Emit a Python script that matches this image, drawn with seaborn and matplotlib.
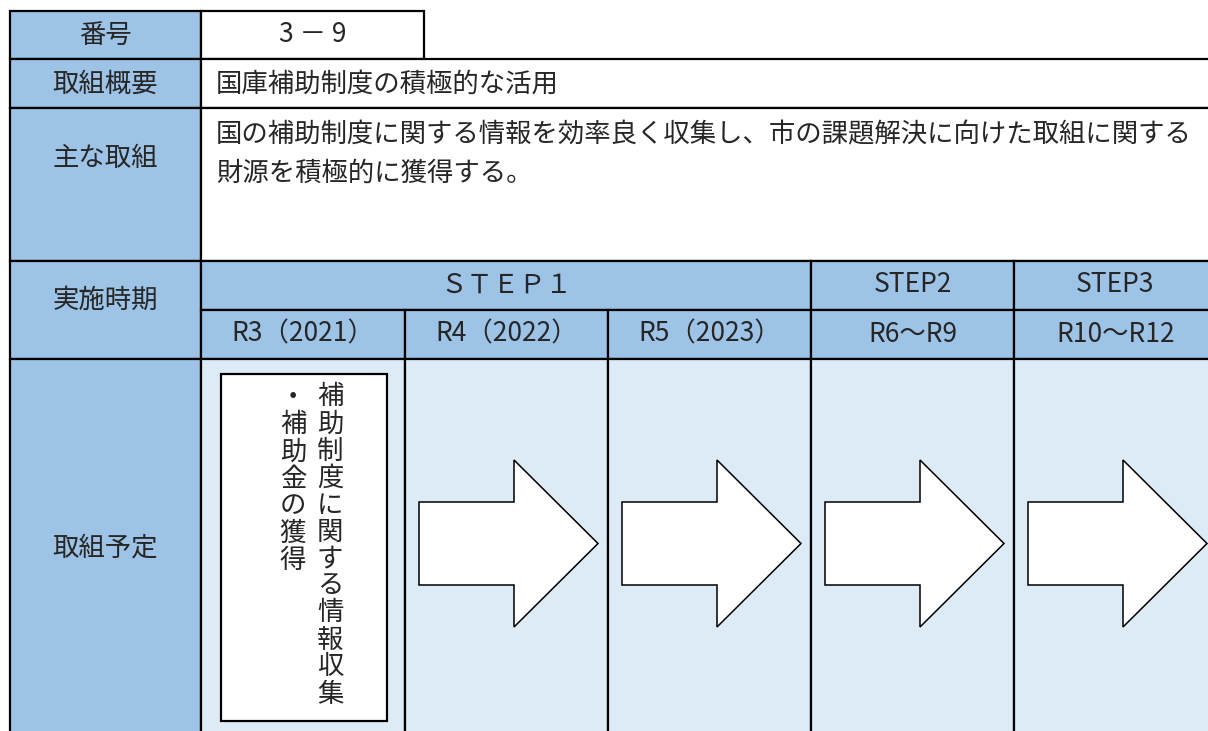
import matplotlib.pyplot as plt
import seaborn as sns
from matplotlib.patches import Rectangle, Polygon

sns.set_style("white")
plt.rcParams['font.family'] = ['Noto Sans CJK JP', 'DejaVu Sans']

# table contents
row_labels = ['番号', '取組概要', '主な取組', '実施時期', '取組予定']
number_text = '3 － 9'
summary_text = '国庫補助制度の積極的な活用'
main_lines = ['国の補助制度に関する情報を効率良く収集し、市の課題解決に向けた取組に関する',
              '財源を積極的に獲得する。']
steps = ['ＳＴＥＰ１', 'STEP2', 'STEP3']
step_spans = [3, 1, 1]
periods = ['R3（2021）', 'R4（2022）', 'R5（2023）', 'R6～R9', 'R10～R12']
plan_lines = ['補助制度に関する情報収集', '・補助金の獲得']
arrow_cols = [1, 2, 3, 4]

# colours
dark = '#9dc3e6'
light = '#ddebf7'

# layout grid in pixels
col_x = [10, 201, 405, 608, 811, 1014, 1217]
row_y = [11, 59, 108, 261, 310, 359, 745]
lw = 1.6
fs = 19

fig = plt.figure(figsize=(12.08, 7.31), dpi=100)
ax = fig.add_axes([0, 0, 1, 1])
ax.set_xlim(0, 1208)
ax.set_ylim(731, 0)
ax.axis('off')


def cell(x0, y0, x1, y1, fc):
    ax.add_patch(Rectangle((x0, y0), x1 - x0, y1 - y0, facecolor=fc,
                           edgecolor='black', linewidth=lw, zorder=1))


# left header column
label_y = [35, 84, 158, 300, 548]
cell(col_x[0], row_y[0], col_x[1], row_y[1], dark)
cell(col_x[0], row_y[1], col_x[1], row_y[2], dark)
cell(col_x[0], row_y[2], col_x[1], row_y[3], dark)
cell(col_x[0], row_y[3], col_x[1], row_y[5], dark)
cell(col_x[0], row_y[5], col_x[1], row_y[6], dark)
for lab, y in zip(row_labels, label_y):
    ax.text((col_x[0] + col_x[1]) / 2, y, lab, ha='center', va='center', fontsize=fs, zorder=3)

# number, summary, main rows
cell(col_x[1], row_y[0], 424, row_y[1], 'white')
ax.text((col_x[1] + 424) / 2, 35, number_text, ha='center', va='center', fontsize=fs, zorder=3)
cell(col_x[1], row_y[1], col_x[-1], row_y[2], 'white')
ax.text(216, 84, summary_text, ha='left', va='center', fontsize=fs, zorder=3)
cell(col_x[1], row_y[2], col_x[-1], row_y[3], 'white')
for i, line in enumerate(main_lines):
    ax.text(216, 135 + i * 38, line, ha='left', va='center', fontsize=fs, zorder=3)

# steps
c = 1
for s, span in zip(steps, step_spans):
    x0, x1 = col_x[c], col_x[c + span]
    cell(x0, row_y[3], x1, row_y[4], dark)
    ax.text((x0 + x1) / 2, 285, s, ha='center', va='center', fontsize=fs, zorder=3)
    c += span

# periods and plan cells
for i, p in enumerate(periods):
    x0, x1 = col_x[i + 1], col_x[i + 2]
    cell(x0, row_y[4], x1, row_y[5], dark)
    ax.text((x0 + x1) / 2, 334, p, ha='center', va='center', fontsize=fs, zorder=3)
    cell(x0, row_y[5], x1, row_y[6], light)

# vertical text box in first period
ax.add_patch(Rectangle((221, 374), 166, 347, facecolor='white', edgecolor='black',
                       linewidth=lw, zorder=2))
line_x = [330, 293]
line_start = [397, 398]
for lx, ly0, line in zip(line_x, line_start, plan_lines):
    for k, ch in enumerate(line):
        ax.text(lx, ly0 + k * 27, ch, ha='center', va='center', fontsize=fs, zorder=3)

# arrows
for ci in arrow_cols:
    x0 = col_x[ci + 1]
    pts = [(x0 + 14, 502), (x0 + 109, 502), (x0 + 109, 460), (x0 + 193, 543.5),
           (x0 + 109, 627), (x0 + 109, 585), (x0 + 14, 585)]
    ax.add_patch(Polygon(pts, closed=True, facecolor='white', edgecolor='black',
                         linewidth=1.1, zorder=2))

fig.savefig('out.png', dpi=100)
